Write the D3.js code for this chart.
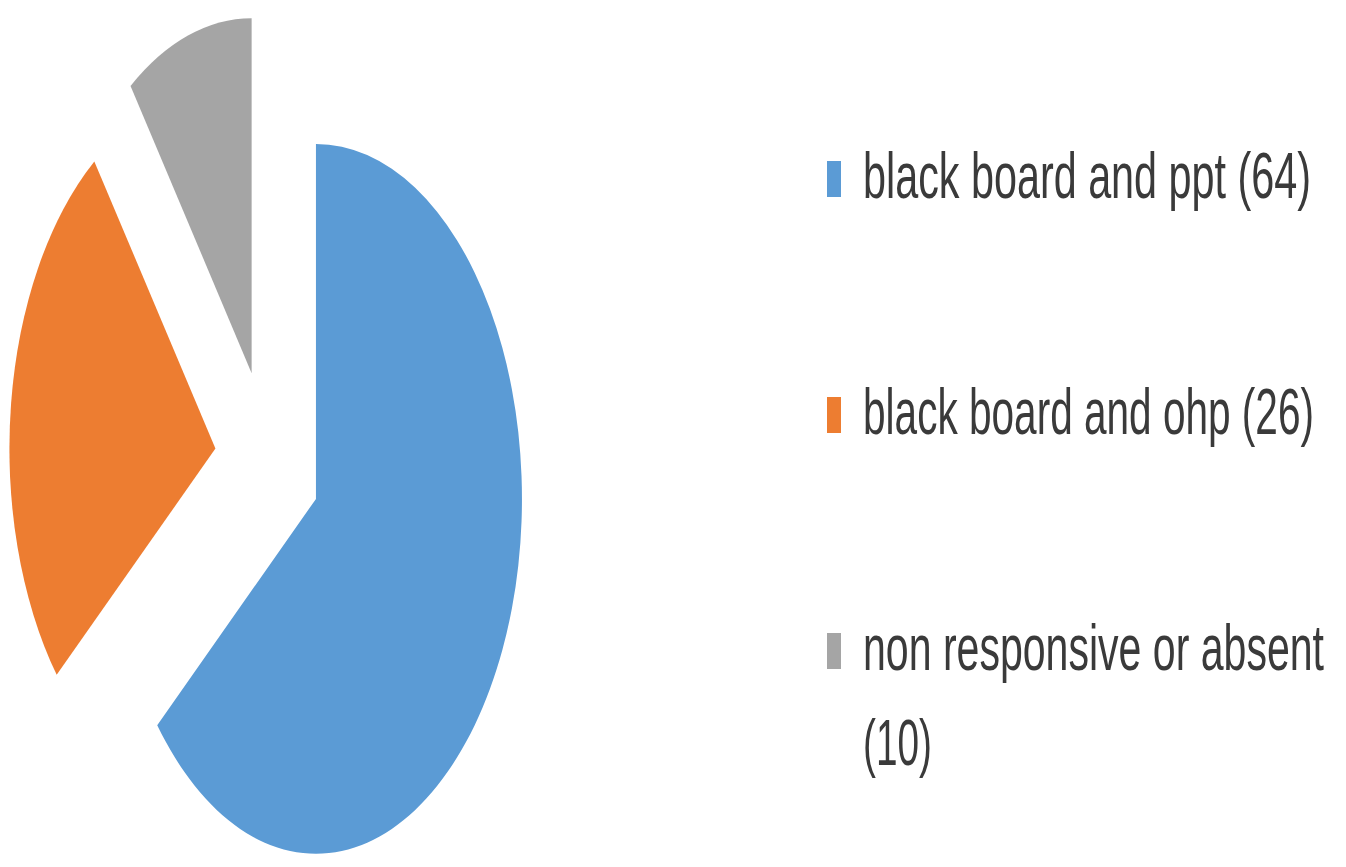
<!DOCTYPE html>
<html>
<head>
<meta charset="utf-8">
<script src="https://cdn.jsdelivr.net/npm/d3@7"></script>
<style>
  body { margin: 0; background: #fff; }
</style>
</head>
<body>
<script>
// data
var categories = ["black board and ppt", "black board and ohp", "non responsive or absent"];
var counts = [64, 26, 10];
var colours = ["#5B9BD5", "#ED7D31", "#A5A5A5"];
// legend text, the last one breaks onto two lines
var legendLines = [["black board and ppt (64)"], ["black board and ohp (26)"], ["non responsive or absent", "(10)"]];

var w = 1346, h = 867;

var svg = d3.select("body")
            .append("svg")
            .attr("width", w)
            .attr("height", h);

// the picture is stretched upwards, so the pie is drawn round and scaled on y
var radius = 206;
var stretch = 1.723;
var explode = 53;

var pie = d3.pie().sort(null).value(function(d){ return d; });
var arc = d3.arc().innerRadius(0).outerRadius(radius);

var pieG = svg.append("g")
              .attr("transform", "translate(268,460) scale(1," + stretch + ")");

pieG.selectAll("path")
    .data(pie(counts))
    .enter()
    .append("path")
    .attr("d", arc)
    .attr("fill", function(d, i){ return colours[i]; })
    .attr("transform", function(d){
        var mid = (d.startAngle + d.endAngle) / 2;
        return "translate(" + (Math.sin(mid) * explode) + "," + (-Math.cos(mid) * explode) + ")";
    });

// legend
var legendX = 827;
var rowY = d3.scalePoint().domain(categories).range([198, 670]);
var textWidths = [[448], [451], [461, 69]];

var rows = svg.selectAll("g.row")
              .data(categories)
              .enter()
              .append("g")
              .attr("class", "row");

rows.append("rect")
    .attr("x", legendX)
    .attr("y", function(d){ return rowY(d) - 37; })
    .attr("width", 14)
    .attr("height", 36)
    .attr("fill", function(d, i){ return colours[i]; });

rows.each(function(d, i){
    var g = d3.select(this);
    legendLines[i].forEach(function(line, j){
        g.append("g")
         .attr("transform", "translate(863," + (rowY(d) + j * 95) + ") scale(1," + stretch + ")")
         .append("text")
         .attr("font-family", "Liberation Sans, Arial, sans-serif")
         .attr("font-size", 38)
         .attr("fill", "#3a3a3a")
         .attr("textLength", textWidths[i][j])
         .attr("lengthAdjust", "spacingAndGlyphs")
         .text(line);
    });
});
</script>
</body>
</html>
